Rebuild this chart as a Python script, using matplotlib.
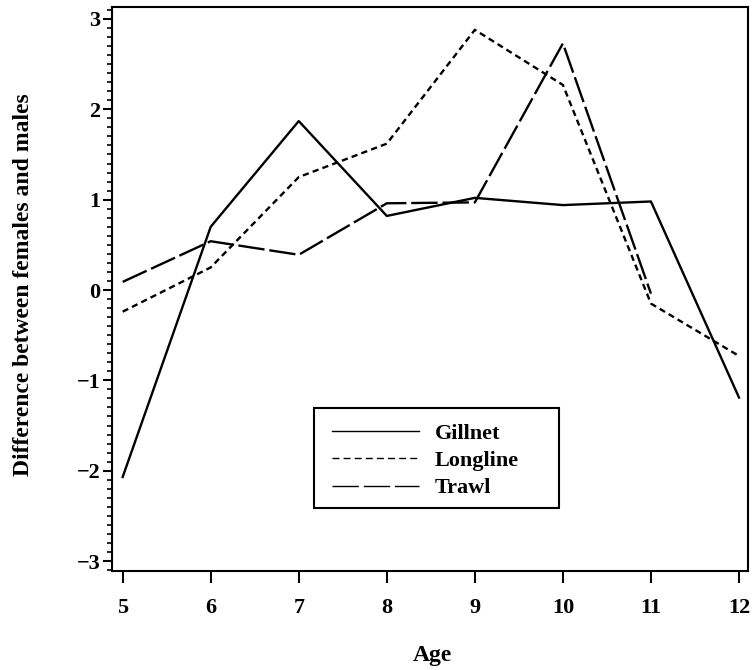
import matplotlib
matplotlib.use("Agg")
import matplotlib.pyplot as plt
from matplotlib.lines import Line2D
from matplotlib.patches import Rectangle
from matplotlib.ticker import MultipleLocator

# dados
idades = [5, 6, 7, 8, 9, 10, 11, 12]
gillnet = [-2.07, 0.70, 1.87, 0.82, 1.02, 0.94, 0.98, -1.19]
longline = [-0.24, 0.25, 1.25, 1.62, 2.88, 2.27, -0.15, -0.73]
idades_trawl = [5, 6, 7, 8, 9, 10, 11]
trawl = [0.09, 0.54, 0.39, 0.96, 0.97, 2.73, -0.04]

plt.rcParams['font.family'] = ['Liberation Serif', 'DejaVu Serif']
plt.rcParams['font.weight'] = 'bold'
plt.rcParams['lines.scale_dashes'] = False

W, H = 752, 670
fig = plt.figure(figsize=(W / 100, H / 100), dpi=100)
ax = fig.add_axes([0.1493, 0.1482, 0.8450, 0.8418])

lw = 1.7
ax.plot(idades, gillnet, color='black', lw=lw, linestyle='-', label='Gillnet')
ax.plot(idades, longline, color='black', lw=lw, linestyle=(0, (4.5, 3.0)), label='Longline')
ax.plot(idades_trawl, trawl, color='black', lw=lw, linestyle=(0, (19, 3.5)), label='Trawl')

ax.set_xlim(4.882, 12.099)
ax.set_ylim(-3.107, 3.136)
ax.set_xticks(idades)
ax.yaxis.set_major_locator(MultipleLocator(1))
ax.yaxis.set_minor_locator(MultipleLocator(0.1))

for s in ax.spines.values():
    s.set_linewidth(1.5)

ax.tick_params(axis='x', which='major', length=8.6, width=1.5, pad=11, labelsize=16)
ax.tick_params(axis='y', which='major', length=6.5, width=1.5, pad=2, labelsize=16)
ax.tick_params(axis='y', which='minor', length=3.6, width=1.2)

fig.text(432 / W, 1 - 655 / H, 'Age', ha='center', va='center', fontsize=17, fontweight='bold')
fig.text(24 / W, 1 - 285 / H, 'Difference between females and males', rotation=90,
         ha='center', va='center', fontsize=17, fontweight='bold')

# legenda: caixa desenhada à parte
handles = [
    Line2D([], [], color='black', lw=1.0, linestyle='-'),
    Line2D([], [], color='black', lw=1.0, linestyle=(0, (5, 3))),
    Line2D([], [], color='black', lw=1.0, linestyle=(0, (19, 3.5))),
]
leg = fig.legend(handles, ['Gillnet', 'Longline', 'Trawl'],
                 loc='upper left', bbox_to_anchor=(332 / W, 1 - 423 / H),
                 fontsize=16, frameon=False, handlelength=3.9, handletextpad=0.72,
                 labelspacing=0.31, borderpad=0, borderaxespad=0)
for t in leg.get_texts():
    t.set_fontweight('bold')
fig.patches.append(Rectangle((314 / W, 1 - 508.3 / H), 245.3 / W, 100 / H,
                             transform=fig.transFigure, fill=False,
                             edgecolor='black', lw=1.5))

fig.savefig('out.png', dpi=100)
